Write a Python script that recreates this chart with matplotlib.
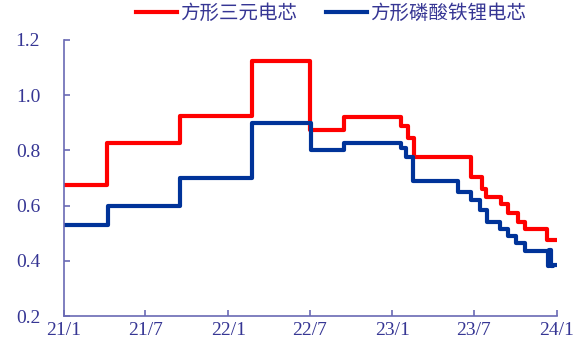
#encoding=utf-8
import pandas as pd
import numpy as np
import matplotlib
matplotlib.use('Agg')
from matplotlib import pyplot as plt
import matplotlib.dates as mdates

# price steps (yuan/Wh), value holds from each date until the next one
ncm_dates = ['2021-01-01', '2021-04-08', '2021-09-16', '2022-02-22', '2022-07-01',
             '2022-09-15', '2023-01-21', '2023-02-05', '2023-02-18', '2023-06-24',
             '2023-07-18', '2023-07-27', '2023-08-31', '2023-09-15', '2023-10-07',
             '2023-10-22', '2023-12-10', '2023-12-31']
ncm_price = [0.675, 0.825, 0.925, 1.125, 0.875,
             0.92, 0.89, 0.845, 0.775, 0.705,
             0.66, 0.63, 0.605, 0.575, 0.54,
             0.515, 0.475, 0.475]

lfp_dates = ['2021-01-01', '2021-04-09', '2021-09-16', '2022-02-22', '2022-07-03',
             '2022-09-15', '2023-01-19', '2023-02-01', '2023-02-15', '2023-05-27',
             '2023-06-25', '2023-07-15', '2023-07-29', '2023-08-27', '2023-09-15',
             '2023-10-03', '2023-10-22', '2023-12-12', '2023-12-15', '2023-12-19',
             '2023-12-23', '2023-12-31']
lfp_price = [0.53, 0.60, 0.70, 0.90, 0.80,
             0.825, 0.81, 0.775, 0.69, 0.65,
             0.62, 0.585, 0.54, 0.515, 0.49,
             0.465, 0.435, 0.38, 0.44, 0.38,
             0.385, 0.385]

xtick_dates = ['2021-01-01', '2021-07-01', '2022-01-01', '2022-07-01',
               '2023-01-01', '2023-07-01', '2024-01-01']
xtick_labels = ['21/1', '21/7', '22/1', '22/7', '23/1', '23/7', '24/1']
labels = [u'方形三元电芯', u'方形磷酸铁锂电芯']

text_color = '#363694'
axis_color = '#6a6ab4'

def main():
    fig = plt.figure(figsize=(5.8, 3.41), dpi=100, facecolor='w')
    ax = fig.add_axes([0.110, 0.073, 0.850, 0.810])

    ax.plot(pd.to_datetime(ncm_dates), ncm_price, drawstyle='steps-post',
            color='#ff0000', lw=3, label=labels[0])
    ax.plot(pd.to_datetime(lfp_dates), lfp_price, drawstyle='steps-post',
            color='#003399', lw=3, label=labels[1])

    ax.set_xlim(pd.Timestamp('2021-01-01'), pd.Timestamp('2024-01-01'))
    ax.set_ylim(0.2, 1.2)
    ax.set_xticks(pd.to_datetime(xtick_dates))
    ax.set_xticklabels(xtick_labels)
    ax.set_yticks(np.arange(0.2, 1.21, 0.2))
    ax.set_yticklabels(['%.1f' % v for v in np.arange(0.2, 1.21, 0.2)])

    for s in ['top', 'right']:
        ax.spines[s].set_visible(False)
    for s in ['left', 'bottom']:
        ax.spines[s].set_color(axis_color)
        ax.spines[s].set_linewidth(1.2)

    ax.tick_params(axis='both', direction='in', length=4, width=1.2,
                   color=axis_color, labelcolor=text_color, labelsize=14)
    ax.tick_params(axis='y', pad=17)
    ax.tick_params(axis='x', pad=4)
    for t in ax.get_xticklabels() + ax.get_yticklabels():
        t.set_family('Liberation Serif')

    leg = fig.legend(loc='center', bbox_to_anchor=(0.571, 0.962), ncol=2,
                     frameon=False, handlelength=2.1, handletextpad=0.15,
                     columnspacing=1.5,
                     prop={'family': ['Noto Sans CJK SC', 'DejaVu Sans'], 'size': 14})
    for t in leg.get_texts():
        t.set_color(text_color)

    fig.savefig('out.png', dpi=100, facecolor='w')

if __name__ == "__main__":
    main()
